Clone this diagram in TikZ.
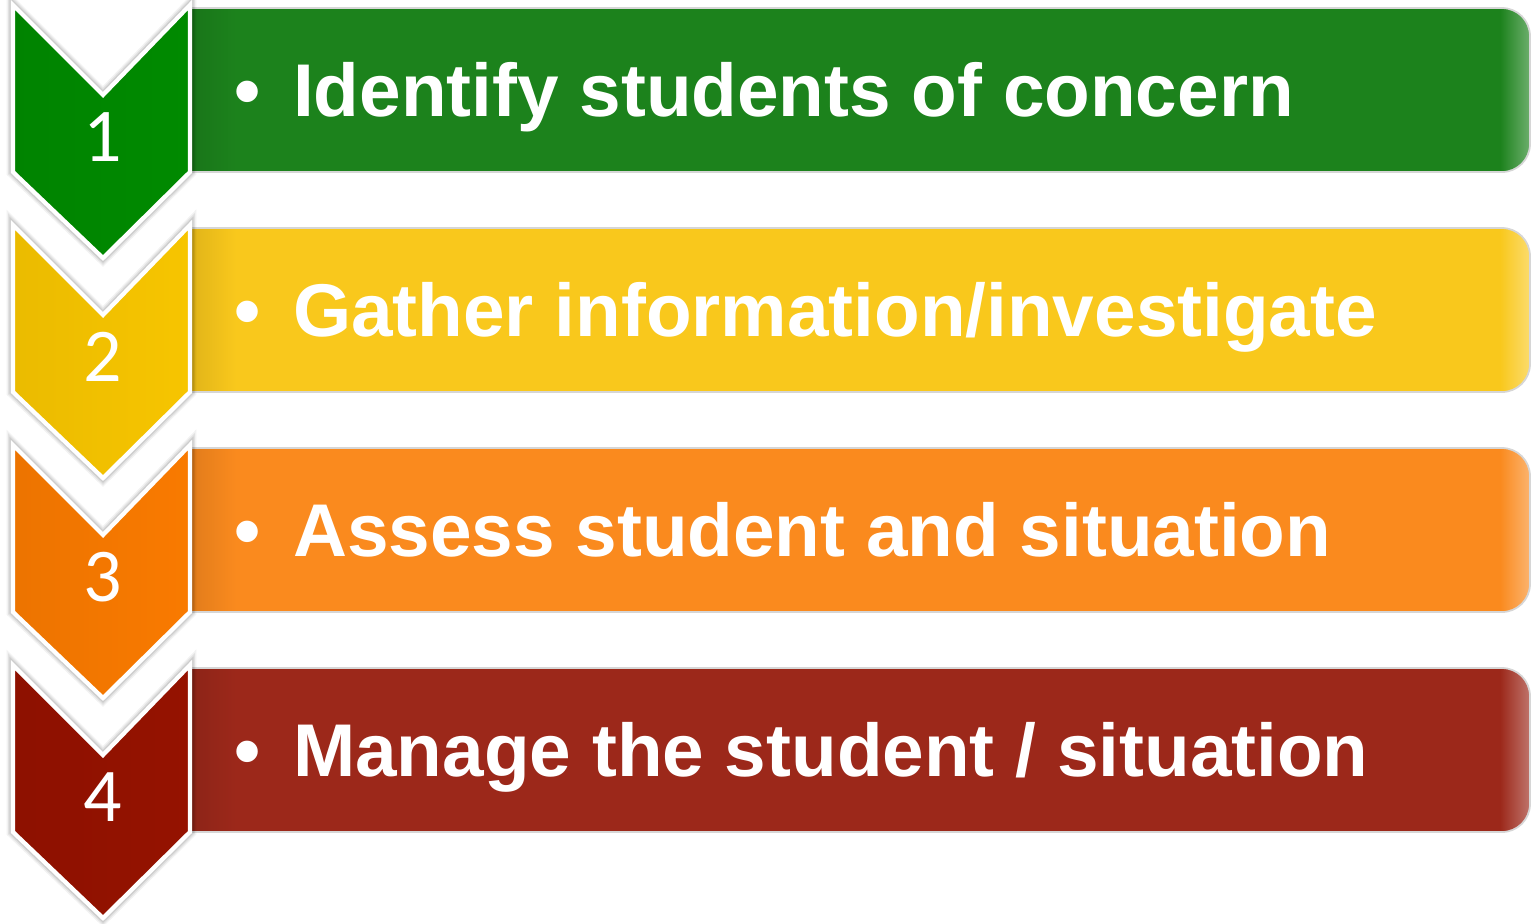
\documentclass[tikz,border=0pt]{standalone}
\usepackage{fontspec}
\setmainfont{Liberation Sans}
\newfontfamily\numfont{Carlito}
\usepackage{tikz}

\definecolor{barA}{HTML}{1C821C}
\definecolor{chevA}{HTML}{008A00}
\definecolor{barB}{HTML}{F9C81C}
\definecolor{chevB}{HTML}{F7C500}
\definecolor{barC}{HTML}{FA8A1E}
\definecolor{chevC}{HTML}{F97A00}
\definecolor{barD}{HTML}{9C281A}
\definecolor{chevD}{HTML}{951200}

% outline of one bar and one chevron, #1 = top of the row
\newcommand\stepbar[1]{(190,#1+3) -- (1502,#1+3) arc[start angle=270,end angle=360,radius=28]
  -- (1530,#1+139) arc[start angle=0,end angle=90,radius=28] -- (190,#1+167) -- cycle}
\newcommand\stepchev[1]{(13,#1) -- (103,#1+90) -- (190,#1) -- (190,#1+167) -- (103,#1+253) -- (13,#1+167) -- cycle}

\begin{document}
\begin{tikzpicture}[x=0.01cm,y=-0.01cm,
		chevline/.style={draw=white,line width=1.2pt,line join=miter},
		barline/.style={draw=black!16,line width=0.5pt},
		steptext/.style={anchor=base west,inner sep=0pt,text=white,font=\bfseries\fontsize{21.25}{24}\selectfont},
		stepnum/.style={inner sep=0pt,text=white,font=\numfont\fontsize{21.6}{24}\selectfont}]
	\useasboundingbox (0,0) rectangle (1532,923);
	%% one row per step
	\foreach \i/\cbar/\cchev/\txt in {1/barA/chevA/Identify students of concern,
			2/barB/chevB/Gather information\slash investigate,
			3/barC/chevC/Assess student and situation,
			4/barD/chevD/Manage the student \slash\ situation}{
		\pgfmathsetmacro\T{5+220*(\i-1)}
		%% bar
		\fill[\cbar] \stepbar{\T};
		\begin{scope}
			\clip \stepbar{\T};
			\shade[left color=\cbar!90!black, right color=\cbar] (190,\T) rectangle (236,\T+170);
			\shade[left color=\cbar, right color=\cbar!62!white] (1500,\T) rectangle (1532,\T+170);
		\end{scope}
		\draw[barline] \stepbar{\T};
		\node (txt\i) at (234,\T+111) [steptext] {\textbullet\hspace{9.2pt}\txt};
		%% chevron
		\foreach \w/\o in {3.6/0.05,2.8/0.07,2.0/0.09}
			\draw[black,opacity=\o,line width=\w pt,line join=miter] \stepchev{\T};
		\shade[left color=\cchev!95!black, right color=\cchev] \stepchev{\T};
		\draw[chevline] \stepchev{\T};
		\node (num\i) at (103,\T+132) [stepnum] {\i};
	}
\end{tikzpicture}
\end{document}
